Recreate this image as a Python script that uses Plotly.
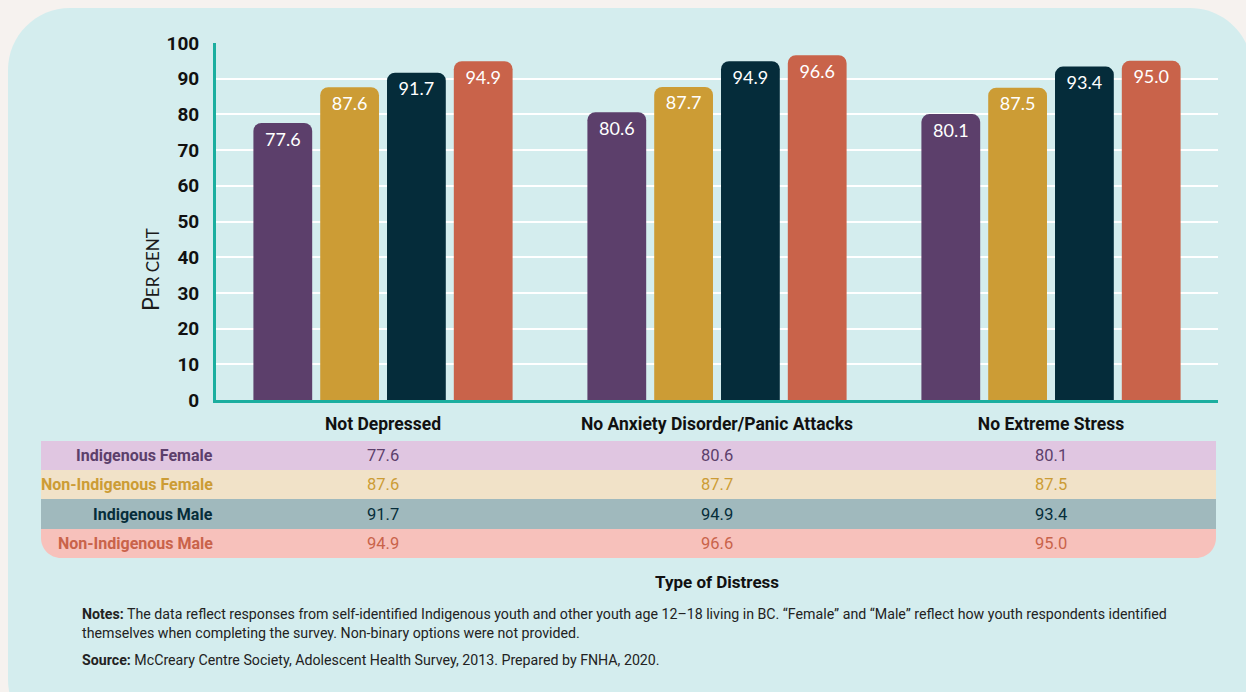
import plotly.graph_objects as go

W, H = 1246, 692

CATEGORIES = ["Not Depressed", "No Anxiety Disorder/Panic Attacks", "No Extreme Stress"]
GROUPS = ["Indigenous Female", "Non-Indigenous Female", "Indigenous Male", "Non-Indigenous Male"]
INDIGENOUS_FEMALE = [77.6, 80.6, 80.1]
NON_INDIGENOUS_FEMALE = [87.6, 87.7, 87.5]
INDIGENOUS_MALE = [91.7, 94.9, 93.4]
NON_INDIGENOUS_MALE = [94.9, 96.6, 95.0]
Y_TICKS = [0, 10, 20, 30, 40, 50, 60, 70, 80, 90, 100]

SERIES = [INDIGENOUS_FEMALE, NON_INDIGENOUS_FEMALE, INDIGENOUS_MALE, NON_INDIGENOUS_MALE]
BAR_COLORS = ["#5C3F6B", "#CC9C35", "#052C3A", "#C9634A"]
ROW_BG = ["#E0C6E1", "#F1E2C8", "#A0B9BD", "#F7C1BB"]
ROW_TEXT = ["#5C3F6B", "#CC9C35", "#062D3A", "#C9634A"]

COND = "Roboto, sans-serif"
ROUND = "Lato, Open Sans, sans-serif"


def px(x):
    return x / W


def py(y):
    return 1 - y / H


def rounded_path(x0, y0, x1, y1, rtl=0, rtr=0, rbr=0, rbl=0):
    # pixel coords (y down) -> paper path, corners drawn as cubic arcs
    k = 0.5523
    pts = [
        ("M", [(x0, y0 + rtl)]),
        ("C", [(x0, y0 + rtl - k * rtl), (x0 + rtl - k * rtl, y0), (x0 + rtl, y0)]),
        ("L", [(x1 - rtr, y0)]),
        ("C", [(x1 - rtr + k * rtr, y0), (x1, y0 + rtr - k * rtr), (x1, y0 + rtr)]),
        ("L", [(x1, y1 - rbr)]),
        ("C", [(x1, y1 - rbr + k * rbr), (x1 - rbr + k * rbr, y1), (x1 - rbr, y1)]),
        ("L", [(x0 + rbl, y1)]),
        ("C", [(x0 + rbl - k * rbl, y1), (x0, y1 - rbl + k * rbl), (x0, y1 - rbl)]),
    ]
    out = []
    for cmd, coords in pts:
        out.append(cmd + " " + " ".join(f"{px(a):.5f},{py(b):.5f}" for a, b in coords))
    return " ".join(out) + " Z"


fig = go.Figure()

for name, vals, col in zip(GROUPS, SERIES, BAR_COLORS):
    fig.add_trace(
        go.Bar(
            name=name,
            x=CATEGORIES,
            y=vals,
            marker=dict(color=col, cornerradius=8, line=dict(width=0)),
            text=vals,
            texttemplate="%{y:.1f}",
            textposition="inside",
            insidetextanchor="end",
            textangle=0,
            textfont=dict(family=ROUND, size=18, color="white"),
            hoverinfo="skip",
        )
    )

shapes = [
    # background panel
    dict(type="path", xref="paper", yref="paper", layer="below",
         path=rounded_path(8, 8, 1252, 740, 62, 62, 0, 60),
         fillcolor="#D4EDEE", line=dict(width=0)),
]

# table rows under the chart
row_edges = [441, 470, 499, 529, 558]
for i in range(4):
    rbl = rbr = 20 if i == 3 else 0
    shapes.append(dict(type="path", xref="paper", yref="paper", layer="below",
                       path=rounded_path(41, row_edges[i], 1216, row_edges[i + 1], 0, 0, rbr, rbl),
                       fillcolor=ROW_BG[i], line=dict(width=0)))

annotations = []
for i, (name, vals) in enumerate(zip(GROUPS, SERIES)):
    yc = py((row_edges[i] + row_edges[i + 1]) / 2)
    annotations.append(dict(x=px(215), y=yc, xref="paper", yref="paper", xanchor="right",
                            yanchor="middle", showarrow=False, text=name,
                            font=dict(family=COND, size=16, color=ROW_TEXT[i], weight="bold")))
    for cat, v in zip(CATEGORIES, vals):
        annotations.append(dict(x=cat, y=yc, xref="x", yref="paper", xanchor="center",
                                yanchor="middle", showarrow=False, text=f"{v:.1f}",
                                font=dict(family=COND, size=16.5, color=ROW_TEXT[i])))

annotations += [
    dict(x=px(150), y=py(270), xref="paper", yref="paper", showarrow=False, textangle=-90,
         xanchor="center", yanchor="middle",
         text="P<span style='font-size:17px'>ER CENT</span>",
         font=dict(family=ROUND, size=23, color="#1A1A1A")),
    dict(x=px(717), y=py(582), xref="paper", yref="paper", showarrow=False,
         xanchor="center", yanchor="middle",
         text="<b>Type of Distress</b>", font=dict(family=COND, size=17, color="#111111")),
    dict(x=px(80), y=py(614), xref="paper", yref="paper", showarrow=False,
         xanchor="left", yanchor="middle",
         text="<b>Notes:</b> The data reflect responses from self-identified Indigenous youth and other youth age 12\u201318 living in BC. \u201cFemale\u201d and \u201cMale\u201d reflect how youth respondents identified",
         font=dict(family=COND, size=14.2, color="#222222")),
    dict(x=px(80), y=py(633), xref="paper", yref="paper", showarrow=False,
         xanchor="left", yanchor="middle",
         text="themselves when completing the survey. Non-binary options were not provided.",
         font=dict(family=COND, size=14.2, color="#222222")),
    dict(x=px(80), y=py(660), xref="paper", yref="paper", showarrow=False,
         xanchor="left", yanchor="middle",
         text="<b>Source:</b> McCreary Centre Society, Adolescent Health Survey, 2013. Prepared by FNHA, 2020.",
         font=dict(family=COND, size=14.2, color="#222222")),
]

fig.update_layout(
    width=W,
    height=H,
    margin=dict(l=0, r=0, t=0, b=0, autoexpand=False),
    paper_bgcolor="#F6F2EF",
    plot_bgcolor="rgba(0,0,0,0)",
    showlegend=False,
    barmode="group",
    bargap=0.2,
    bargroupgap=0.12,
    shapes=shapes,
    annotations=annotations,
)
fig.update_xaxes(
    domain=[px(216), px(1218)],
    automargin=False,
    showline=True, linecolor="#1BAE9F", linewidth=3,
    ticks="", showgrid=False,
    tickfont=dict(family=COND, size=17.5, color="#111111", weight="bold"),
    ticklabelstandoff=6,
)
fig.update_yaxes(
    domain=[py(400), py(43)],
    automargin=False,
    range=[0, 100],
    tickvals=Y_TICKS,
    showline=True, linecolor="#1BAE9F", linewidth=3,
    showgrid=True, gridcolor="white", gridwidth=2,
    zeroline=False, ticks="",
    tickfont=dict(family=COND, size=19, color="#111111", weight="bold"),
    ticklabelstandoff=10,
)

fig.write_html("out.html", config={"displayModeBar": False},
               post_script="document.body.style.margin='0';")
